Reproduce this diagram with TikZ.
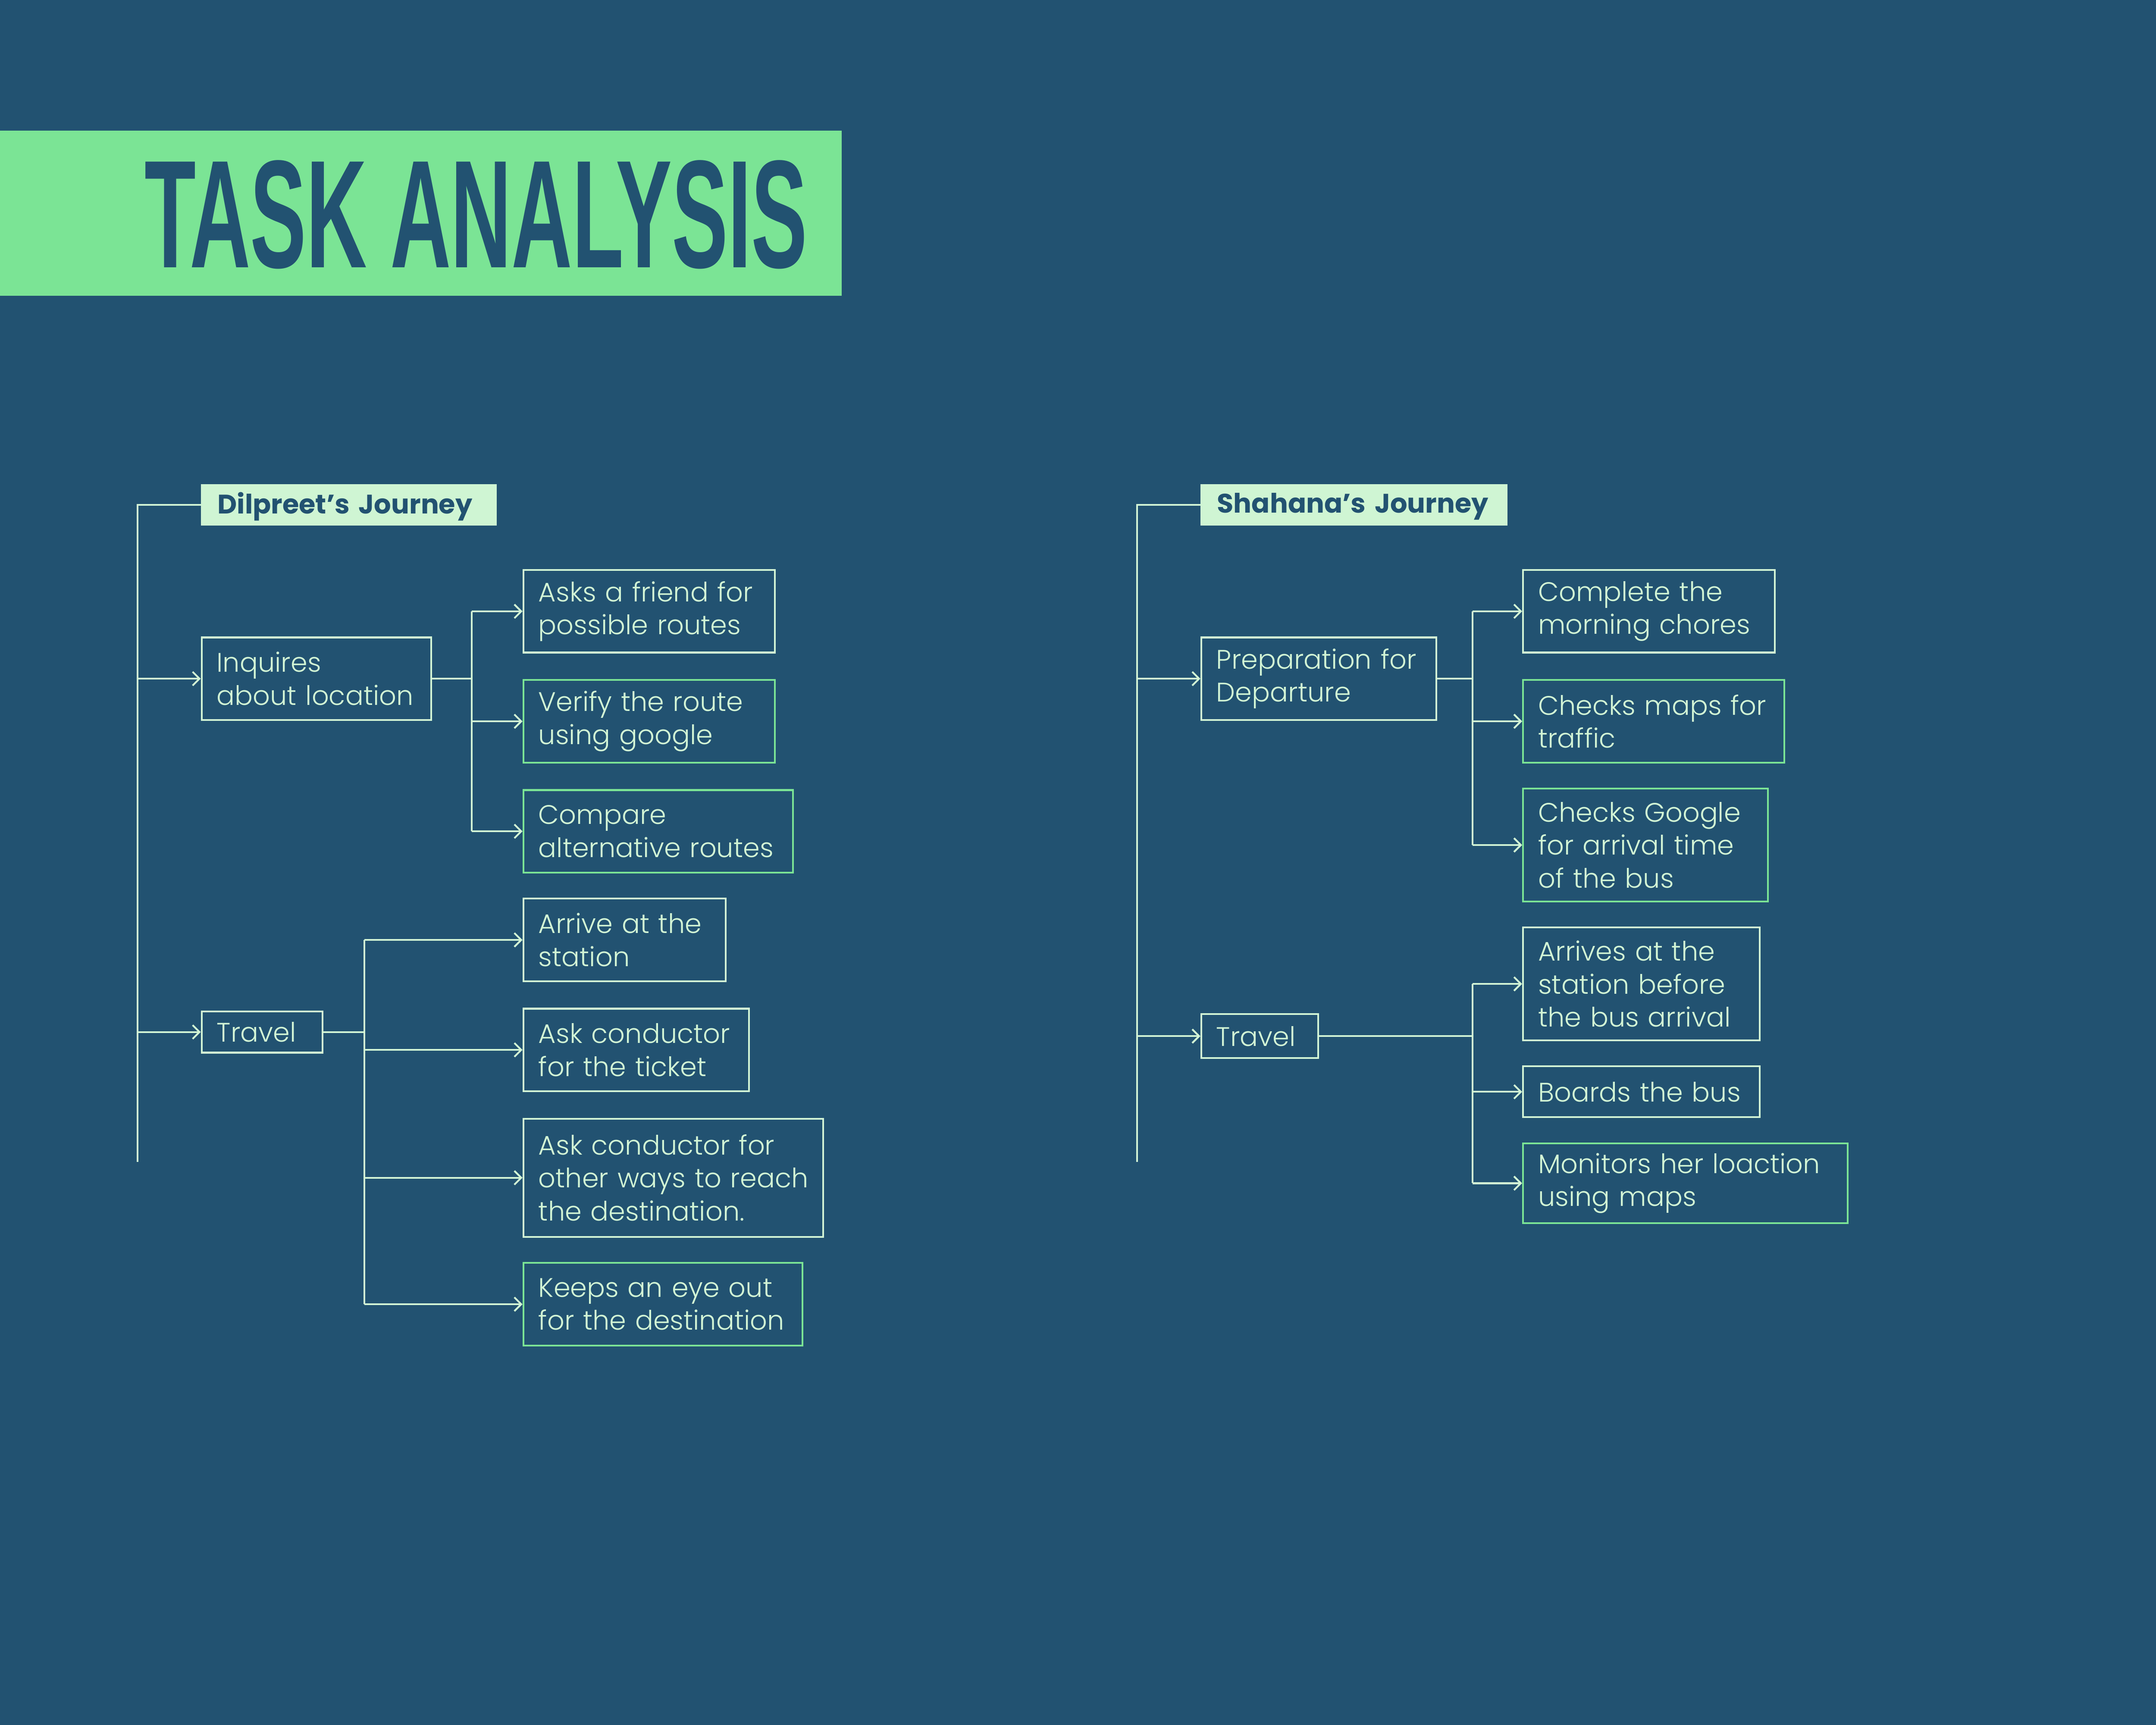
\documentclass[tikz,border=0pt]{standalone}
\usepackage{fontspec}
\usepackage{graphicx}
\usetikzlibrary{arrows.meta}
\usetikzlibrary{positioning}
\IfFontExistsTF{Poppins Light}{\newfontfamily\thinfont{Poppins Light}}{\newfontfamily\thinfont{Poppins}}
\newfontfamily\boldfont{Poppins}
\IfFontExistsTF{Liberation Sans Narrow}{\newfontfamily\titlefont{Liberation Sans Narrow}}{\newfontfamily\titlefont{Liberation Sans}}
\newcommand{\taskfont}{\thinfont\fontsize{19.5}{24}\selectfont}
\newcommand{\journeyfont}{\boldfont\bfseries\fontsize{19.5}{23}\selectfont}
\definecolor{navy}{HTML}{225271}
\definecolor{leaf}{HTML}{7BE495}
\definecolor{mint}{HTML}{D2F5D5}
\definecolor{pale}{HTML}{CFF5D3}

\begin{document}
\begin{tikzpicture}
	[x=1pt,y=-1pt,
	every node/.style={font=\taskfont, text=mint},
	task/.style={draw=mint, line width=1.3pt, anchor=north west, align=left, inner xsep=11pt, inner ysep=0pt},
	taskg/.style={task, draw=leaf},
	journey/.style={fill=pale, text=navy, font=\journeyfont, anchor=north west, align=left, inner xsep=12pt, inner ysep=0pt, minimum height=30pt, text depth=3pt},
	link/.style={draw=mint, line width=1.3pt},
	arr/.style={link, -{Straight Barb[length=5pt,width=10pt]}}]

	\fill[navy] (0,0) rectangle (1568,1254.6);
	\fill[leaf] (0,95) rectangle (612,215);
	\node[anchor=south west, inner sep=0pt, text=navy] (title) at (105,196) {\resizebox{482pt}{78pt}{\titlefont\bfseries TASK ANALYSIS}};

	% Dilpreet
	\coordinate (dtrunk) at (100,845);
	\coordinate (dfork) at (343,0);
	\coordinate (tfork) at (265,0);
	\node[journey, text width=191pt] (dj) at (146,352) {\mbox{Dilpreet’s Journey}};
	\node[task, text width=145pt, minimum height=60pt] (inq) at (146,463) {Inquires\\about~location};
	\node[task, text width=66pt, minimum height=30pt] (dtravel) at (146,735) {Travel};
	\node[task, text width=161pt, minimum height=60pt] (friend) at (380,414) {Asks~a~friend~for\\possible~routes};
	\node[taskg, text width=161pt, minimum height=60pt] (verify) at (380,494) {Verify~the~route\\using~google};
	\node[taskg, text width=174pt, minimum height=60pt] (compare) at (380,574) {Compare\\alternative~routes};
	\node[task, text width=125pt, minimum height=60pt] (station) at (380,653) {Arrive~at~the\\station};
	\node[task, text width=142pt, minimum height=60pt] (ticket) at (380,733) {Ask~conductor\\for~the~ticket};
	\node[task, text width=196pt, minimum height=86pt] (ways) at (380,813) {Ask~conductor~for\\other~ways~to~reach\\the~destination.};
	\node[taskg, text width=181pt, minimum height=60pt] (eye) at (380,918) {Keeps~an~eye~out\\for~the~destination};

	\draw[link] (dtrunk) |- (dj.west);
	\draw[arr] (dtrunk |- inq.west) -- (inq.west);
	\draw[arr] (dtrunk |- dtravel.west) -- (dtravel.west);
	\draw[link] (inq.east) -- (dfork |- inq.east);
	\draw[link] (dfork |- friend.west) -- (dfork |- compare.west);
	\draw[arr] (dfork |- friend.west) -- (friend.west);
	\draw[arr] (dfork |- verify.west) -- (verify.west);
	\draw[arr] (dfork |- compare.west) -- (compare.west);
	\draw[link] (dtravel.east) -- (tfork |- dtravel.east);
	\draw[link] (tfork |- station.west) -- (tfork |- eye.west);
	\draw[arr] (tfork |- station.west) -- (station.west);
	\draw[arr] (tfork |- ticket.west) -- (ticket.west);
	\draw[arr] (tfork |- ways.west) -- (ways.west);
	\draw[arr] (tfork |- eye.west) -- (eye.west);

	% Shahana
	\coordinate (strunk) at (827,845);
	\coordinate (sfork) at (1071,0);
	\node[journey, text width=199pt] (sj) at (873,352) {\mbox{Shahana’s Journey}};
	\node[task, text width=149pt, minimum height=60pt] (prep) at (873,463) {Preparation~for\\Departure};
	\node[task, text width=63pt, minimum height=32pt] (stravel) at (873,737) {Travel};
	\node[task, text width=161pt, minimum height=60pt] (chores) at (1107,414) {Complete~the\\morning~chores};
	\node[taskg, text width=168pt, minimum height=60pt] (maps) at (1107,494) {Checks~maps~for\\traffic};
	\node[taskg, text width=156pt, minimum height=82pt] (google) at (1107,573) {Checks~Google\\for~arrival~time\\of~the~bus};
	\node[task, text width=150pt, minimum height=82pt] (arrives) at (1107,674) {Arrives~at~the\\station~before\\the~bus~arrival};
	\node[task, text width=150pt, minimum height=37pt] (boards) at (1107,775) {Boards~the~bus};
	\node[taskg, text width=214pt, minimum height=58pt] (monitors) at (1107,831) {Monitors~her~loaction\\using~maps};

	\draw[link] (strunk) |- (sj.west);
	\draw[arr] (strunk |- prep.west) -- (prep.west);
	\draw[arr] (strunk |- stravel.west) -- (stravel.west);
	\draw[link] (prep.east) -- (sfork |- prep.east);
	\draw[link] (sfork |- chores.west) -- (sfork |- google.west);
	\draw[arr] (sfork |- chores.west) -- (chores.west);
	\draw[arr] (sfork |- maps.west) -- (maps.west);
	\draw[arr] (sfork |- google.west) -- (google.west);
	\draw[link] (stravel.east) -- (sfork |- stravel.east);
	\draw[link] (sfork |- arrives.west) -- (sfork |- monitors.west);
	\draw[arr] (sfork |- arrives.west) -- (arrives.west);
	\draw[arr] (sfork |- boards.west) -- (boards.west);
	\draw[arr] (sfork |- monitors.west) -- (monitors.west);
\end{tikzpicture}
\end{document}
